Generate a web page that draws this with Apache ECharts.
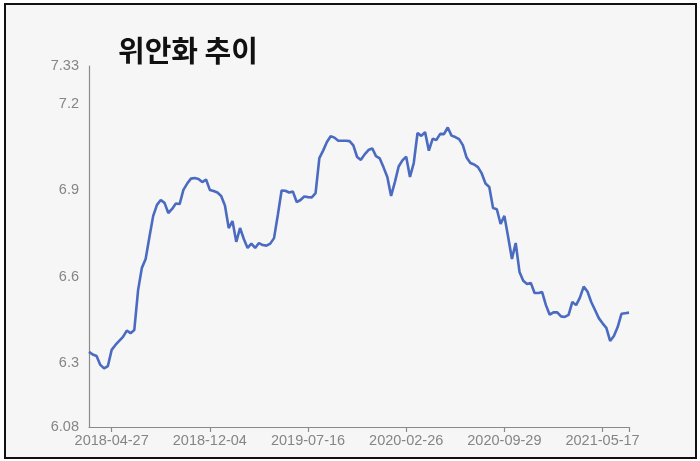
<!DOCTYPE html>
<html>
<head>
<meta charset="utf-8">
<script src="https://cdn.jsdelivr.net/npm/echarts@6/dist/echarts.min.js"></script>
<style>
  html, body { margin: 0; padding: 0; background: #ffffff; }
  #frame { position: absolute; left: 4px; top: 3px; width: 693px; height: 456px; box-sizing: border-box; border: 2px solid #111; background: #f6f6f6; }
  #chart { position: absolute; left: 0; top: 0; width: 700px; height: 461px; }
</style>
</head>
<body>
<div id="frame"></div>
<div id="chart"></div>
<script>
const titleText = '위안화 추이';
const tickLabels = ['2018-04-27', '2018-12-04', '2019-07-16', '2020-02-26', '2020-09-29', '2021-05-17'];
const tickIndex = [6, 32, 58, 84, 110, 136];
const yLabels = [6.08, 6.3, 6.6, 6.9, 7.2, 7.33];
const rates = [
  6.340, 6.331, 6.326, 6.295, 6.283, 6.291, 6.347, 6.364, 6.378, 6.392,
  6.414, 6.405, 6.416, 6.554, 6.631, 6.662, 6.738, 6.811, 6.849, 6.866,
  6.856, 6.821, 6.835, 6.854, 6.852, 6.901, 6.923, 6.940, 6.942, 6.939,
  6.928, 6.937, 6.901, 6.897, 6.892, 6.880, 6.847, 6.769, 6.793, 6.721,
  6.769, 6.731, 6.700, 6.715, 6.700, 6.717, 6.710, 6.708, 6.715, 6.734,
  6.814, 6.899, 6.898, 6.892, 6.895, 6.859, 6.866, 6.878, 6.876, 6.875,
  6.890, 7.011, 7.037, 7.067, 7.087, 7.082, 7.071, 7.071, 7.071, 7.070,
  7.055, 7.015, 7.005, 7.024, 7.039, 7.045, 7.018, 7.010, 6.979, 6.946,
  6.880, 6.928, 6.982, 7.003, 7.016, 6.946, 6.994, 7.098, 7.088, 7.101,
  7.037, 7.078, 7.074, 7.095, 7.094, 7.117, 7.089, 7.084, 7.077, 7.056,
  7.013, 6.994, 6.989, 6.980, 6.958, 6.923, 6.911, 6.838, 6.834, 6.783,
  6.811, 6.738, 6.662, 6.717, 6.617, 6.586, 6.575, 6.579, 6.544, 6.544,
  6.547, 6.502, 6.469, 6.477, 6.477, 6.463, 6.461, 6.468, 6.513, 6.502,
  6.528, 6.566, 6.549, 6.513, 6.485, 6.457, 6.439, 6.423, 6.378, 6.395,
  6.426, 6.472, 6.474, 6.476
];

const categories = rates.map(function (v, i) {
  const k = tickIndex.indexOf(i);
  return k >= 0 ? tickLabels[k] : '';
});
const lastIndex = rates.length - 1;

const chart = echarts.init(document.getElementById('chart'), null, { renderer: 'canvas' });
chart.setOption({
  backgroundColor: 'transparent',
  animation: false,
  title: {
    text: titleText,
    left: 113,
    top: 31,
    textStyle: {
      fontFamily: '"Noto Sans CJK KR", sans-serif',
      fontWeight: 'bold',
      fontSize: 29,
      color: '#111'
    }
  },
  grid: { left: 89, right: 71, top: 66, bottom: 34, containLabel: false },
  xAxis: {
    type: 'category',
    data: categories,
    boundaryGap: false,
    axisLine: { show: true, lineStyle: { color: '#8a8a8a', width: 1.2 } },
    axisTick: {
      show: true,
      length: 5,
      lineStyle: { color: '#8a8a8a', width: 1.2 },
      interval: function (index) { return tickIndex.indexOf(index) >= 0 || index === lastIndex; }
    },
    axisLabel: {
      interval: function (index) { return tickIndex.indexOf(index) >= 0; },
      color: '#858585',
      fontFamily: '"Liberation Sans", Arial, sans-serif',
      fontSize: 14.5,
      margin: 6
    },
    splitLine: { show: false }
  },
  yAxis: {
    type: 'value',
    min: 6.08,
    max: 7.33,
    axisLine: { show: true, lineStyle: { color: '#8a8a8a', width: 1.2 } },
    axisTick: { show: false },
    splitLine: { show: false },
    axisLabel: {
      customValues: yLabels,
      color: '#858585',
      fontFamily: '"Liberation Sans", Arial, sans-serif',
      fontSize: 14.5,
      margin: 10
    }
  },
  series: [{
    type: 'line',
    data: rates,
    showSymbol: false,
    symbol: 'none',
    lineStyle: { color: '#4a6bc0', width: 2.6 },
    itemStyle: { color: '#4a6bc0' }
  }]
});
</script>
</body>
</html>
